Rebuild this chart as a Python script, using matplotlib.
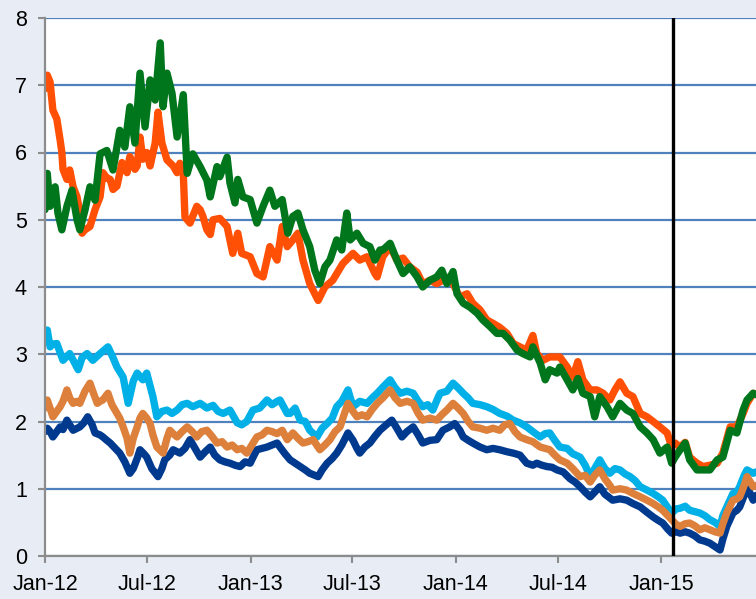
import matplotlib
matplotlib.use("Agg")
import matplotlib.pyplot as plt
import matplotlib.dates as mdates
import pandas as pd

plt.rcParams['font.family'] = ['Liberation Sans', 'DejaVu Sans']

base = pd.Timestamp('2012-01-01')

# ---- Data (days since 2012-01-01, yield %) ----
orange_days = [0, 4, 9, 14, 21, 27, 30, 32, 39, 44, 50, 57, 62, 66, 71, 80, 89, 98, 103, 110, 116, 121, 128, 137, 146, 151, 160, 164, 169, 174, 181, 187, 196, 201, 208, 217, 228, 235, 240, 246, 249, 258, 270, 276, 281, 288, 294, 299, 311, 324, 334, 343, 350, 365, 377, 388, 400, 413, 422, 431, 441, 450, 459, 471, 486, 498, 512, 530, 548, 560, 573, 587, 591, 601, 614, 626, 637, 649, 662, 672, 685, 697, 708, 720, 729, 738, 751, 761, 774, 786, 797, 809, 822, 833, 845, 857, 868, 875, 886, 898, 911, 916, 929, 939, 948, 957, 970, 982, 993, 1005, 1014, 1023, 1035, 1046, 1059, 1071, 1082, 1094, 1107, 1115, 1121, 1130, 1139, 1147, 1160, 1171, 1183, 1196, 1206, 1219, 1231, 1242, 1249, 1260, 1265]
orange_vals = [6.95, 7.15, 7.05, 6.63, 6.5, 6.18, 6.0, 5.75, 5.6, 5.74, 5.49, 5.34, 5.1, 4.8, 4.85, 4.9, 5.15, 5.34, 5.7, 5.62, 5.6, 5.45, 5.5, 5.85, 5.7, 5.94, 5.75, 5.8, 6.23, 5.9, 6.0, 5.8, 6.14, 6.6, 6.14, 5.89, 5.8, 5.7, 5.84, 5.7, 5.04, 4.95, 5.2, 5.15, 5.05, 4.85, 4.78, 5.0, 5.02, 4.9, 4.5, 4.8, 4.5, 4.45, 4.2, 4.15, 4.6, 4.4, 4.9, 4.6, 4.7, 4.8, 4.4, 4.05, 3.8, 4.0, 4.1, 4.35, 4.5, 4.4, 4.45, 4.2, 4.15, 4.45, 4.6, 4.4, 4.43, 4.3, 4.22, 4.05, 4.1, 4.05, 4.1, 4.15, 4.0, 3.85, 3.9, 3.76, 3.66, 3.51, 3.46, 3.4, 3.31, 3.16, 3.11, 3.06, 3.28, 3.01, 2.91, 2.96, 2.96, 2.96, 2.81, 2.66, 2.89, 2.62, 2.47, 2.47, 2.42, 2.32, 2.47, 2.59, 2.42, 2.37, 2.12, 2.07, 2.0, 1.92, 1.83, 1.62, 1.68, 1.62, 1.69, 1.47, 1.38, 1.33, 1.35, 1.38, 1.53, 1.92, 1.92, 2.12, 2.27, 2.42, 2.4]

green_days = [0, 4, 9, 14, 18, 23, 30, 39, 48, 57, 62, 71, 80, 89, 98, 110, 121, 133, 142, 151, 160, 169, 178, 187, 196, 205, 210, 217, 226, 235, 246, 253, 263, 276, 288, 294, 306, 311, 324, 329, 338, 343, 352, 365, 377, 388, 400, 409, 422, 432, 441, 450, 459, 471, 480, 489, 498, 507, 519, 528, 537, 543, 555, 566, 578, 587, 596, 601, 614, 626, 637, 649, 662, 672, 685, 697, 706, 715, 726, 733, 744, 756, 769, 779, 792, 804, 815, 827, 840, 850, 863, 868, 881, 890, 898, 911, 916, 929, 939, 948, 957, 970, 978, 987, 1000, 1010, 1023, 1035, 1046, 1059, 1071, 1082, 1094, 1107, 1115, 1121, 1130, 1139, 1147, 1160, 1171, 1183, 1196, 1206, 1219, 1231, 1242, 1249, 1260, 1265]
green_vals = [5.15, 5.69, 5.2, 5.4, 5.49, 5.1, 4.85, 5.2, 5.44, 5.0, 4.85, 5.14, 5.49, 5.29, 5.98, 6.03, 5.74, 6.33, 6.08, 6.68, 6.14, 7.18, 6.38, 7.08, 6.78, 7.63, 6.68, 7.18, 6.88, 6.23, 6.86, 5.69, 5.98, 5.79, 5.59, 5.34, 5.79, 5.64, 5.93, 5.55, 5.25, 5.6, 5.34, 5.3, 4.95, 5.2, 5.44, 5.2, 5.3, 4.8, 5.05, 5.1, 4.85, 4.6, 4.25, 4.05, 4.3, 4.4, 4.7, 4.55, 5.1, 4.7, 4.8, 4.65, 4.6, 4.4, 4.55, 4.55, 4.65, 4.4, 4.2, 4.3, 4.15, 4.0, 4.1, 4.15, 4.25, 4.05, 4.23, 3.9, 3.76, 3.7, 3.61, 3.51, 3.41, 3.31, 3.31, 3.21, 3.06, 3.01, 2.96, 3.11, 2.87, 2.62, 2.77, 2.72, 2.81, 2.62, 2.47, 2.64, 2.42, 2.37, 2.07, 2.37, 2.22, 2.07, 2.27, 2.17, 2.12, 1.92, 1.83, 1.73, 1.53, 1.62, 1.38, 1.47, 1.58, 1.68, 1.43, 1.28, 1.28, 1.28, 1.43, 1.47, 1.87, 1.83, 2.17, 2.32, 2.42, 2.4]

lblue_days = [0, 4, 9, 14, 21, 32, 44, 59, 66, 75, 85, 98, 112, 121, 128, 139, 148, 157, 164, 174, 181, 192, 199, 208, 217, 226, 235, 244, 253, 263, 276, 288, 299, 308, 317, 329, 342, 350, 359, 370, 382, 395, 404, 413, 418, 431, 436, 445, 454, 463, 471, 484, 493, 502, 511, 519, 528, 539, 548, 560, 573, 582, 591, 601, 614, 623, 632, 644, 655, 664, 672, 681, 690, 699, 703, 715, 726, 735, 744, 753, 761, 774, 786, 797, 809, 822, 833, 845, 857, 868, 881, 890, 898, 907, 916, 929, 939, 952, 961, 970, 978, 987, 996, 1005, 1014, 1023, 1032, 1041, 1050, 1059, 1071, 1082, 1091, 1099, 1108, 1115, 1123, 1130, 1139, 1147, 1156, 1165, 1174, 1183, 1192, 1201, 1206, 1213, 1224, 1231, 1236, 1244, 1249, 1260, 1265]
lblue_vals = [3.2, 3.36, 3.11, 3.15, 3.16, 2.91, 3.01, 2.77, 2.95, 3.01, 2.91, 3.01, 3.11, 2.95, 2.81, 2.66, 2.27, 2.6, 2.72, 2.62, 2.72, 2.37, 2.07, 2.15, 2.17, 2.12, 2.17, 2.25, 2.27, 2.22, 2.27, 2.2, 2.24, 2.15, 2.12, 2.17, 1.98, 1.95, 2.0, 2.17, 2.2, 2.32, 2.25, 2.3, 2.32, 2.12, 2.12, 2.2, 2.02, 2.0, 1.87, 1.77, 1.9, 1.97, 2.05, 2.22, 2.3, 2.47, 2.22, 2.3, 2.27, 2.35, 2.42, 2.51, 2.62, 2.5, 2.42, 2.45, 2.42, 2.3, 2.22, 2.25, 2.17, 2.35, 2.42, 2.45, 2.57, 2.5, 2.42, 2.35, 2.27, 2.25, 2.22, 2.18, 2.12, 2.08, 2.02, 1.98, 1.92, 1.85, 1.77, 1.82, 1.83, 1.72, 1.62, 1.6, 1.52, 1.47, 1.35, 1.18, 1.3, 1.43, 1.3, 1.23, 1.3, 1.28, 1.22, 1.18, 1.12, 1.03, 0.98, 0.93, 0.88, 0.83, 0.72, 0.64, 0.7, 0.71, 0.74, 0.68, 0.66, 0.64, 0.6, 0.54, 0.5, 0.44, 0.6, 0.73, 0.93, 0.95, 1.03, 1.2, 1.28, 1.23, 1.25]

tan_days = [0, 4, 9, 14, 21, 27, 32, 39, 44, 50, 57, 62, 71, 80, 85, 93, 98, 103, 112, 119, 128, 133, 139, 146, 151, 157, 164, 169, 174, 181, 187, 192, 199, 210, 217, 222, 228, 235, 244, 253, 262, 270, 279, 288, 297, 306, 315, 324, 333, 342, 350, 359, 368, 377, 386, 395, 404, 413, 422, 431, 441, 450, 459, 468, 477, 489, 498, 507, 516, 525, 532, 539, 548, 555, 564, 573, 582, 591, 601, 614, 623, 632, 644, 655, 664, 672, 685, 697, 706, 715, 726, 735, 744, 753, 761, 774, 786, 797, 809, 818, 827, 836, 845, 857, 868, 881, 890, 898, 907, 916, 929, 939, 952, 961, 970, 978, 987, 996, 1005, 1010, 1023, 1035, 1046, 1059, 1071, 1082, 1091, 1099, 1108, 1115, 1123, 1130, 1139, 1147, 1156, 1165, 1174, 1183, 1192, 1201, 1206, 1213, 1224, 1231, 1236, 1244, 1249, 1260, 1265]
tan_vals = [2.2, 2.32, 2.2, 2.07, 2.15, 2.22, 2.3, 2.47, 2.35, 2.27, 2.3, 2.27, 2.45, 2.57, 2.45, 2.27, 2.3, 2.32, 2.42, 2.25, 2.12, 2.05, 1.92, 1.75, 1.53, 1.75, 1.92, 2.05, 2.12, 2.05, 1.97, 1.8, 1.62, 1.53, 1.75, 1.87, 1.82, 1.77, 1.85, 1.92, 1.85, 1.77, 1.85, 1.87, 1.78, 1.68, 1.7, 1.62, 1.65, 1.58, 1.6, 1.53, 1.65, 1.77, 1.8, 1.87, 1.85, 1.82, 1.87, 1.73, 1.83, 1.75, 1.68, 1.7, 1.73, 1.58, 1.65, 1.73, 1.85, 1.92, 2.1, 2.27, 2.15, 2.07, 2.1, 2.07, 2.18, 2.27, 2.35, 2.47, 2.35, 2.27, 2.3, 2.27, 2.12, 2.02, 2.05, 2.02, 2.1, 2.17, 2.27, 2.2, 2.12, 2.0, 1.92, 1.9, 1.87, 1.9, 1.87, 1.95, 1.97, 1.85, 1.77, 1.73, 1.7, 1.62, 1.6, 1.58, 1.5, 1.43, 1.38, 1.3, 1.18, 1.2, 1.1, 1.2, 1.28, 1.15, 1.05, 0.98, 1.0, 0.98, 0.93, 0.88, 0.83, 0.78, 0.73, 0.68, 0.6, 0.54, 0.47, 0.44, 0.48, 0.49, 0.45, 0.39, 0.42, 0.39, 0.36, 0.34, 0.48, 0.64, 0.83, 0.85, 0.88, 1.05, 1.18, 1.03, 1.05]

dblue_days = [0, 4, 9, 14, 21, 27, 32, 39, 44, 50, 57, 62, 69, 76, 84, 89, 98, 103, 110, 116, 125, 133, 142, 151, 157, 164, 169, 176, 181, 190, 201, 208, 213, 222, 228, 235, 240, 249, 258, 267, 276, 285, 294, 302, 311, 320, 329, 338, 347, 356, 365, 372, 377, 386, 395, 404, 413, 418, 427, 436, 445, 454, 463, 471, 480, 486, 493, 502, 511, 519, 528, 539, 548, 555, 560, 569, 578, 587, 596, 607, 617, 626, 635, 644, 655, 664, 672, 685, 697, 708, 720, 729, 738, 744, 753, 761, 774, 786, 797, 809, 822, 833, 845, 857, 868, 875, 884, 893, 902, 911, 922, 934, 943, 952, 961, 970, 978, 987, 996, 1010, 1023, 1035, 1046, 1059, 1071, 1082, 1091, 1099, 1108, 1115, 1123, 1130, 1139, 1147, 1156, 1165, 1174, 1183, 1192, 1201, 1206, 1213, 1224, 1231, 1236, 1244, 1249, 1260, 1265]
dblue_vals = [1.85, 1.9, 1.85, 1.77, 1.85, 1.92, 1.88, 2.02, 1.95, 1.87, 1.9, 1.92, 1.98, 2.07, 1.95, 1.83, 1.8, 1.77, 1.72, 1.68, 1.6, 1.53, 1.4, 1.23, 1.3, 1.45, 1.58, 1.52, 1.47, 1.3, 1.18, 1.3, 1.43, 1.5, 1.58, 1.55, 1.53, 1.6, 1.73, 1.6, 1.47, 1.55, 1.62, 1.5, 1.43, 1.4, 1.38, 1.35, 1.33, 1.4, 1.38, 1.5, 1.58, 1.6, 1.62, 1.65, 1.68, 1.62, 1.52, 1.43, 1.38, 1.33, 1.28, 1.23, 1.2, 1.18, 1.28, 1.38, 1.45, 1.53, 1.65, 1.83, 1.72, 1.6, 1.53, 1.62, 1.68, 1.78, 1.87, 1.95, 2.02, 1.9, 1.77, 1.85, 1.92, 1.8, 1.68, 1.72, 1.73, 1.87, 1.92, 1.97, 1.87, 1.77, 1.72, 1.68, 1.62, 1.58, 1.6, 1.58, 1.55, 1.53, 1.5, 1.38, 1.35, 1.38, 1.35, 1.33, 1.32, 1.28, 1.25, 1.15, 1.1, 1.03, 0.95, 0.88, 0.95, 1.03, 0.92, 0.83, 0.85, 0.83, 0.78, 0.73, 0.65, 0.58, 0.53, 0.49, 0.4, 0.34, 0.36, 0.34, 0.36, 0.34, 0.3, 0.24, 0.22, 0.19, 0.14, 0.09, 0.25, 0.44, 0.64, 0.68, 0.73, 0.9, 1.03, 0.83, 0.9]

event_day = 1117          # vertical marker (22 Jan 2015)
x_end_day = 1265
tick_dates = ['2012-01-01', '2012-07-01', '2013-01-01', '2013-07-01',
              '2014-01-01', '2014-07-01', '2015-01-01']
y_ticks = [0, 1, 2, 3, 4, 5, 6, 7, 8]

series = [
    (lblue_days, lblue_vals, '#00B0E6'),
    (dblue_days, dblue_vals, '#003A8F'),
    (tan_days, tan_vals, '#DC803C'),
    (orange_days, orange_vals, '#FF5005'),
    (green_days, green_vals, '#00761C'),
]

def to_dates(days):
    return base + pd.to_timedelta(days, unit='D')

bg = '#E8ECF4'
fig = plt.figure(figsize=(7.56, 5.99), dpi=100, facecolor=bg)
ax = fig.add_axes([45/756, 43/599, 711/756, 538/599])
ax.set_facecolor('white')

for d, v, c in series:
    ax.plot(to_dates(d), v, color=c, lw=5.3, solid_joinstyle='round',
            solid_capstyle='round', zorder=3, clip_on=True)

ax.axvline(to_dates([event_day])[0], color='black', lw=2.4, zorder=5)

ax.set_ylim(0, 8)
ax.set_xlim(base, to_dates([x_end_day])[0])
ax.set_yticks(y_ticks)
ax.set_xticks(pd.to_datetime(tick_dates))
ax.xaxis.set_major_formatter(mdates.DateFormatter('%b-%y'))

ax.grid(axis='y', color='#4F81BD', lw=1.6, zorder=1)
ax.grid(axis='x', visible=False)
ax.set_axisbelow(True)

for s in ['top', 'right']:
    ax.spines[s].set_visible(False)
for s in ['left', 'bottom']:
    ax.spines[s].set_color('#8C8C8C')
    ax.spines[s].set_linewidth(1.6)
    ax.spines[s].set_zorder(4)

ax.tick_params(axis='both', direction='out', length=5, width=1.5,
               color='#8C8C8C', labelsize=15.5, labelcolor='black')
ax.tick_params(axis='y', pad=8)
ax.tick_params(axis='x', pad=8)

fig.savefig('out.png', dpi=100, facecolor=bg)
